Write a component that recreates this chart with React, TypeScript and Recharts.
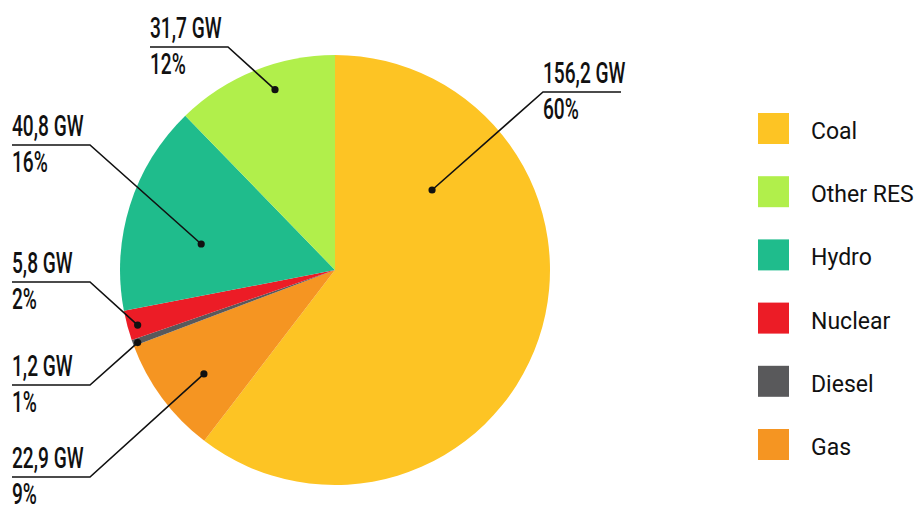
import { Cell, Legend, Pie, PieChart } from "recharts"

const categories = ["Coal", "Gas", "Diesel", "Nuclear", "Hydro", "Other RES"]
const capacityGw = [156.2, 22.9, 1.2, 5.8, 40.8, 31.7]
const shareLabels = ["60%", "9%", "1%", "2%", "16%", "12%"]
const legendOrder = ["Coal", "Other RES", "Hydro", "Nuclear", "Diesel", "Gas"]

const sliceColors: Record<string, string> = {
  Coal: "#fdc424",
  Gas: "#f59522",
  Diesel: "#59595b",
  Nuclear: "#ec1c26",
  Hydro: "#1fbc8c",
  "Other RES": "#b1ef4b",
}

// callout placement per slice: dot radius (share of outer radius) and angle,
// elbow offset from the pie centre, and which side the text sits on
const callouts: Record<string, { r: number; angle: number; dx: number; dy: number; side: "left" | "right" }> = {
  Coal: { r: 0.585, angle: 39.5, dx: 208, dy: -178, side: "right" },
  Gas: { r: 0.778, angle: -141.6, dx: -245, dy: 207, side: "left" },
  Diesel: { r: 0.978, angle: -159.8, dx: -245, dy: 115, side: "left" },
  Nuclear: { r: 0.953, angle: -164.4, dx: -245, dy: 12, side: "left" },
  Hydro: { r: 0.634, angle: 169, dx: -245, dy: -125, side: "left" },
  "Other RES": { r: 0.884, angle: 108.4, dx: -107, dy: -223, side: "left" },
}

const data = categories.map((name, i) => ({
  name,
  value: capacityGw[i],
  gw: `${capacityGw[i].toFixed(1).replace(".", ",")} GW`,
  share: shareLabels[i],
}))

const RAD = Math.PI / 180
const UNDERLINE = 78

function Callout(props: any) {
  const { cx, cy, outerRadius, payload } = props
  const c = callouts[payload.name]
  const a = c.angle * RAD
  const dotX = cx + outerRadius * c.r * Math.cos(a)
  const dotY = cy - outerRadius * c.r * Math.sin(a)
  const ex = cx + c.dx
  const ey = cy + c.dy
  const startX = c.side === "left" ? ex - UNDERLINE : ex
  const endX = c.side === "left" ? ex - UNDERLINE : ex + UNDERLINE
  const textStyle = { fontFamily: "Roboto, sans-serif", fontSize: 29, fontWeight: 500, fill: "#111" }
  return (
    <g>
      <polyline
        points={`${dotX},${dotY} ${ex},${ey} ${endX},${ey}`}
        fill="none"
        stroke="#111"
        strokeWidth={1.6}
      />
      <circle cx={dotX} cy={dotY} r={3.6} fill="#111" />
      <g transform={`translate(${startX},${ey}) scale(0.66,1)`}>
        <text x={0} y={-8.7} style={textStyle}>
          {payload.gw}
        </text>
        <text x={0} y={27} style={textStyle}>
          {payload.share}
        </text>
      </g>
    </g>
  )
}

function LegendBlock() {
  return (
    <svg width={170} height={380}>
      {legendOrder.map((name, i) => (
        <g key={name} transform={`translate(0,${i * 63.2})`}>
          <rect x={0} y={0} width={31} height={31} fill={sliceColors[name]} />
          <text x={53} y={26} style={{ fontFamily: "Roboto, sans-serif", fontSize: 23, fill: "#111" }}>
            {name}
          </text>
        </g>
      ))}
    </svg>
  )
}

export default function App() {
  return (
    <div style={{ position: "absolute", left: 0, top: 0, width: 914, height: 509, background: "#fff" }}>
      <PieChart width={914} height={509} margin={{ top: 0, right: 0, bottom: 0, left: 0 }}>
        <Pie
          data={data}
          dataKey="value"
          nameKey="name"
          cx={335}
          cy={270}
          outerRadius={215}
          startAngle={90}
          endAngle={-270}
          stroke="none"
          labelLine={false}
          label={Callout}
          isAnimationActive={false}
        >
          {data.map((d) => (
            <Cell key={d.name} fill={sliceColors[d.name]} />
          ))}
        </Pie>
        <Legend
          content={LegendBlock}
          wrapperStyle={{ position: "absolute", left: 758, top: 113, width: 170, height: 380 }}
        />
      </PieChart>
    </div>
  )
}
